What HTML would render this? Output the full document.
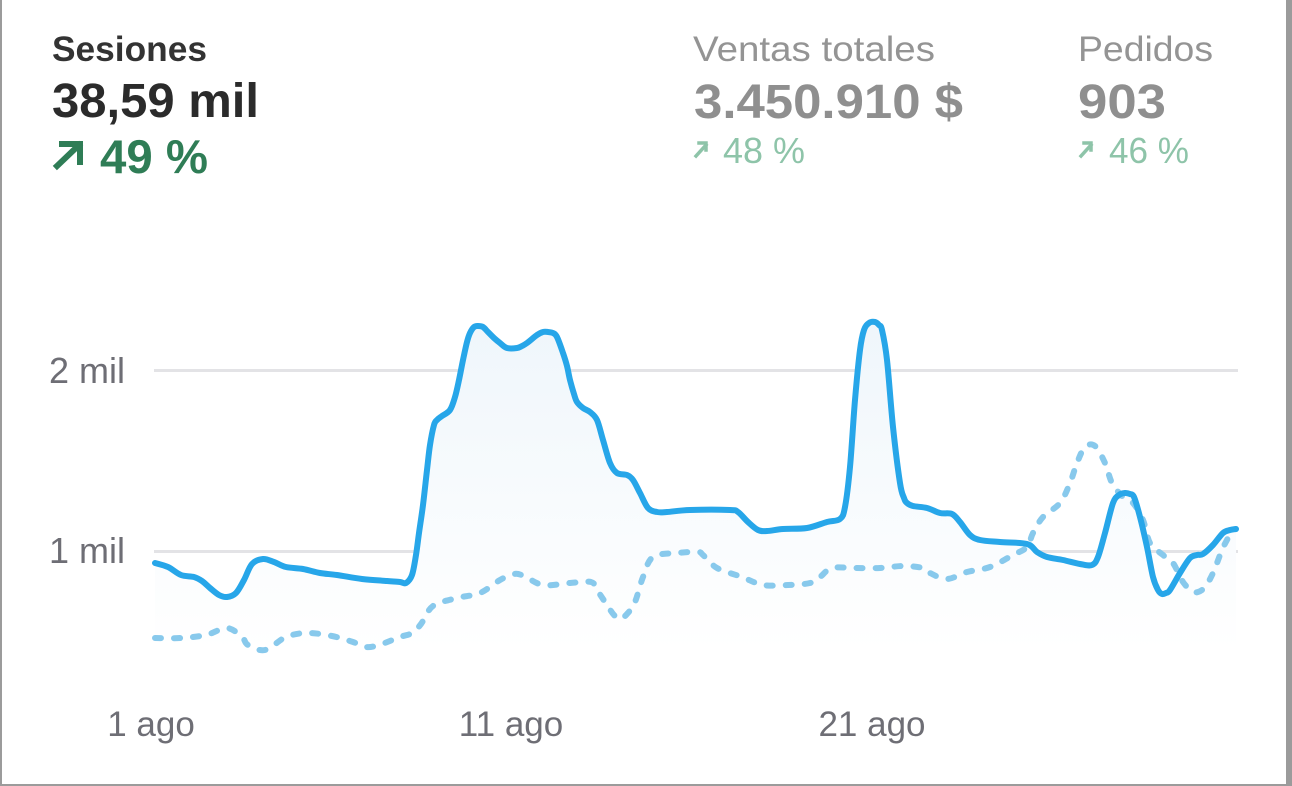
<!DOCTYPE html>
<html><head><meta charset="utf-8"><style>
html,body{margin:0;padding:0;background:#fff;}
svg{display:block;}
text{font-family:"Liberation Sans",sans-serif;}
</style></head><body>
<svg id="chart" width="1292" height="786" viewBox="0 0 1292 786" xmlns="http://www.w3.org/2000/svg">
<defs>
<linearGradient id="fg" gradientUnits="userSpaceOnUse" x1="0" y1="320" x2="0" y2="650">
<stop offset="0" stop-color="#eff6fb"/>
<stop offset="1" stop-color="#ffffff"/>
</linearGradient>
</defs>
<rect width="1292" height="786" fill="#fff"/>
<!-- borders -->
<rect x="0" y="0" width="2" height="786" fill="#9b9b9b"/>
<rect x="1286" y="0" width="6" height="786" fill="#9b9b9b"/>
<rect x="0" y="784" width="1292" height="2" fill="#9b9b9b"/>

<!-- header -->
<text x="52" y="61" font-size="35" font-weight="bold" fill="#333333" textLength="155" lengthAdjust="spacingAndGlyphs">Sesiones</text>
<text x="52" y="117" font-size="48" font-weight="bold" fill="#2b2b2b" textLength="207" lengthAdjust="spacingAndGlyphs">38,59 mil</text>
<g stroke="#2f7d56" stroke-width="6" fill="none" stroke-linecap="square">
<line x1="57" y1="166" x2="79" y2="145"/>
<polyline points="62,144 80,144 80,162"/>
</g>
<text x="100" y="173" font-size="47" font-weight="bold" fill="#2f7d56" textLength="108" lengthAdjust="spacingAndGlyphs">49 %</text>

<text x="693" y="61" font-size="35" fill="#949494" textLength="242" lengthAdjust="spacingAndGlyphs">Ventas totales</text>
<text x="694" y="118" font-size="48" font-weight="bold" fill="#8f8f8f" textLength="269" lengthAdjust="spacingAndGlyphs">3.450.910 $</text>
<g stroke="#8ec4a9" stroke-width="3.5" fill="none" stroke-linecap="square">
<line x1="696" y1="156" x2="706" y2="145"/>
<polyline points="699,143 706,143 706,150"/>
</g>
<text x="723" y="163" font-size="36" fill="#8ec4a9" textLength="82" lengthAdjust="spacingAndGlyphs">48 %</text>

<text x="1078" y="61" font-size="35" fill="#949494" textLength="135" lengthAdjust="spacingAndGlyphs">Pedidos</text>
<text x="1078" y="118" font-size="48" font-weight="bold" fill="#8f8f8f" textLength="88" lengthAdjust="spacingAndGlyphs">903</text>
<g stroke="#8ec4a9" stroke-width="3.5" fill="none" stroke-linecap="square">
<line x1="1081" y1="156" x2="1091" y2="145"/>
<polyline points="1084,143 1091,143 1091,150"/>
</g>
<text x="1109" y="163" font-size="36" fill="#8ec4a9" textLength="80" lengthAdjust="spacingAndGlyphs">46 %</text>

<!-- gridlines -->
<rect x="154" y="369" width="1084" height="3" fill="#e3e3e6"/>
<rect x="154" y="550" width="1084" height="3" fill="#e3e3e6"/>
<text x="125" y="383" font-size="36" fill="#6e6e75" text-anchor="end">2 mil</text>
<text x="125" y="563" font-size="36" fill="#6e6e75" text-anchor="end">1 mil</text>

<!-- x labels -->
<text x="151" y="736" font-size="35" fill="#6e6e75" text-anchor="middle">1 ago</text>
<text x="511" y="736" font-size="35" fill="#6e6e75" text-anchor="middle">11 ago</text>
<text x="872" y="736" font-size="35" fill="#6e6e75" text-anchor="middle">21 ago</text>

<!-- fill -->
<polygon id="fillp" fill="url(#fg)" points="155,563 168,567 181,575 194,577 202,581 210,588 219,595 227,597 236,593 244,580 252,564 263,559 274,562 286,567 303,569 320,573 337,575 362,579 387,581 400,582 406,583 412,575 416,555 419,533 423,505 427,470 430,445 434,425 437,420 442,416 450,410 455,397 459,380 463,360 467,342 470,333 474,327 478,326 483,327 488,332 494,338 500,343 507,348 517,348 522,346 527,343 537,335 543,332 548,332 553,333 557,337 563,353 567,366 570,380 574,394 577,402 583,408 590,412 597,420 603,440 610,463 617,473 627,475 633,480 640,493 648,508 657,512 667,512 690,510 730,510 738,512 748,522 758,530 767,531 783,529 807,528 827,522 840,519 845,507 850,467 855,400 860,350 864,330 869,323 875,322 879,325 882,330 887,360 893,427 900,483 904,498 907,503 913,506 927,508 940,513 952,514 960,522 970,535 980,540 1000,542 1027,544 1037,552 1047,557 1063,560 1080,564 1092,565 1098,557 1105,533 1113,503 1119,495 1125,493 1130,494 1134,497 1140,517 1147,547 1153,577 1158,590 1162,594 1166,593 1170,590 1180,573 1190,558 1197,555 1203,554 1213,545 1223,533 1230,530 1236,529 1236,650 155,650"/>

<!-- dashed comparison -->
<polyline class="smooth" fill="none" stroke="#88c9ec" stroke-width="6" stroke-linecap="round" stroke-linejoin="round" stroke-dasharray="6 13" points="155,638 181,638 206,635 227,628 242,637 248,645 265,650 286,637 307,633 332,636 353,642 366,647 379,645 400,637 412,633 421,624 433,606 457,598 480,593 500,580 514,574 524,576 543,585 570,583 591,582 597,590 607,605 614,615 620,619 627,614 635,602 643,577 653,557 677,553 698,552 703,555 717,568 742,577 763,585 788,585 810,583 820,577 832,568 855,568 880,568 903,566 923,568 930,573 947,579 967,572 990,567 1013,555 1027,547 1033,533 1043,517 1060,503 1070,483 1077,463 1085,447 1095,446 1105,463 1112,483 1123,497 1133,503 1143,520 1150,543 1163,555 1173,563 1183,582 1192,591 1198,592 1205,587 1213,573 1222,550 1228,538"/>

<!-- main line -->
<polyline class="smooth" id="mainl" fill="none" stroke="#27a6e9" stroke-width="6" stroke-linecap="round" stroke-linejoin="round" points="155,563 168,567 181,575 194,577 202,581 210,588 219,595 227,597 236,593 244,580 252,564 263,559 274,562 286,567 303,569 320,573 337,575 362,579 387,581 400,582 406,583 412,575 416,555 419,533 423,505 427,470 430,445 434,425 437,420 442,416 450,410 455,397 459,380 463,360 467,342 470,333 474,327 478,326 483,327 488,332 494,338 500,343 507,348 517,348 522,346 527,343 537,335 543,332 548,332 553,333 557,337 563,353 567,366 570,380 574,394 577,402 583,408 590,412 597,420 603,440 610,463 617,473 627,475 633,480 640,493 648,508 657,512 667,512 690,510 730,510 738,512 748,522 758,530 767,531 783,529 807,528 827,522 840,519 845,507 850,467 855,400 860,350 864,330 869,323 875,322 879,325 882,330 887,360 893,427 900,483 904,498 907,503 913,506 927,508 940,513 952,514 960,522 970,535 980,540 1000,542 1027,544 1037,552 1047,557 1063,560 1080,564 1092,565 1098,557 1105,533 1113,503 1119,495 1125,493 1130,494 1134,497 1140,517 1147,547 1153,577 1158,590 1162,594 1166,593 1170,590 1180,573 1190,558 1197,555 1203,554 1213,545 1223,533 1230,530 1236,529"/>
</svg>
<script>
(function(){
  var NS="http://www.w3.org/2000/svg";
  function parse(s){return s.trim().split(/\s+/).map(function(p){var a=p.split(',');return [parseFloat(a[0]),parseFloat(a[1])];});}
  function smooth(pts){
    var d="M"+pts[0][0]+","+pts[0][1];
    for(var i=0;i<pts.length-1;i++){
      var p0=pts[i>0?i-1:i],p1=pts[i],p2=pts[i+1],p3=pts[i+2<pts.length?i+2:i+1];
      var c1x=p1[0]+(p2[0]-p0[0])/6,c1y=p1[1]+(p2[1]-p0[1])/6;
      var c2x=p2[0]-(p3[0]-p1[0])/6,c2y=p2[1]-(p3[1]-p1[1])/6;
      d+=" C"+c1x.toFixed(2)+","+c1y.toFixed(2)+" "+c2x.toFixed(2)+","+c2y.toFixed(2)+" "+p2[0]+","+p2[1];
    }
    return d;
  }
  try{
    var lines=document.querySelectorAll("polyline.smooth");
    var mainD=null;
    for(var k=0;k<lines.length;k++){
      var pl=lines[k];var pts=parse(pl.getAttribute("points"));
      var path=document.createElementNS(NS,"path");
      var d=smooth(pts);
      for(var j=0;j<pl.attributes.length;j++){var at=pl.attributes[j];if(at.name!=="points"&&at.name!=="class"&&at.name!=="id")path.setAttribute(at.name,at.value);}
      path.setAttribute("d",d);
      if(pl.id==="mainl"){mainD=d;}
      pl.parentNode.replaceChild(path,pl);
    }
    var fp=document.getElementById("fillp");
    if(fp&&mainD){
      var f=document.createElementNS(NS,"path");
      f.setAttribute("fill","url(#fg)");
      f.setAttribute("d",mainD+" L1236,650 L155,650 Z");
      fp.parentNode.replaceChild(f,fp);
    }
  }catch(e){}
})();
</script>
</body></html>
